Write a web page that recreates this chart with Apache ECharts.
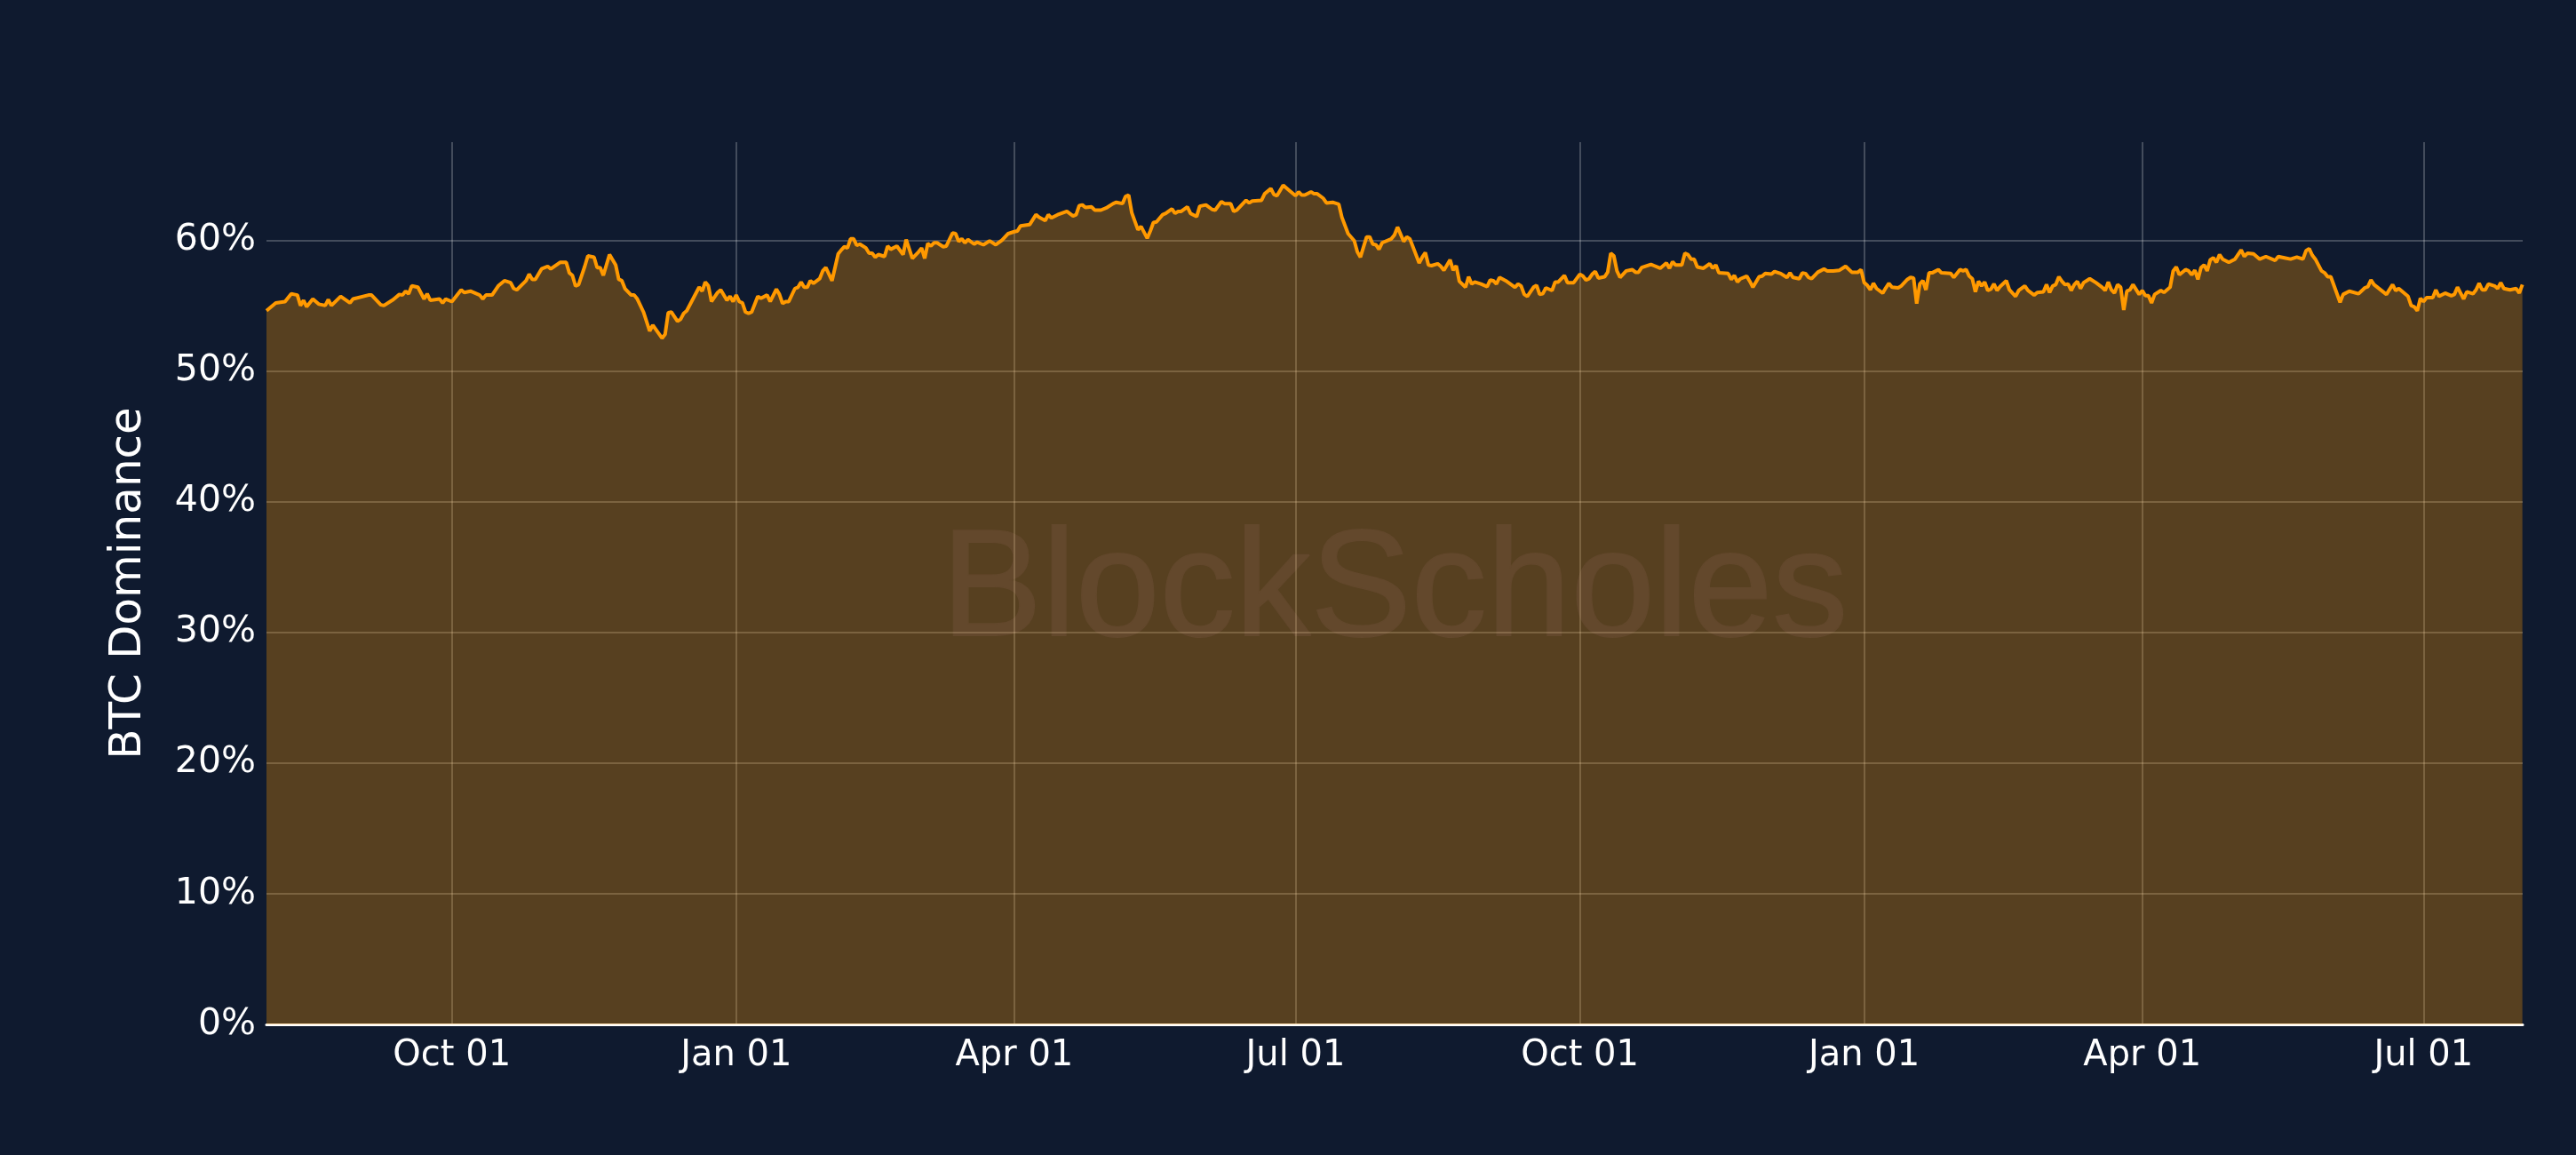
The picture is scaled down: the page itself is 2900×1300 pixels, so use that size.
<!DOCTYPE html>
<html>
<head>
<meta charset="utf-8">
<title>BTC Dominance</title>
<script src="https://cdn.jsdelivr.net/npm/echarts@6.0.0/dist/echarts.min.js"></script>
<style>
  html, body { margin: 0; padding: 0; background: #0f1a2f; }
  #chart { width: 2900px; height: 1300px; }
</style>
</head>
<body>
<div id="chart"></div>
<script>
// first day shown; every point below is "days after startDate"
const startDate = '2024-08-02';
const spanDays = 730.1;

const dayOffsets = [
  0, 3, 6, 8, 10, 11, 12, 13, 15, 17, 19, 20, 21, 24, 27, 28, 33, 34, 37, 38,
  41, 43, 44, 45, 46, 47, 49, 51, 52, 53, 56, 57, 58, 60, 63, 64, 66, 69, 70, 71,
  73, 75, 77, 79, 80, 81, 84, 85, 86, 87, 89, 91, 92, 95, 97, 98, 99, 100, 101, 103,
  104, 106, 107, 108, 109, 111, 113, 114, 115, 116, 118, 119, 120,
  121, 122, 124, 125, 128, 129, 130, 131, 133, 134, 135, 136, 140, 141, 142, 143, 144, 146, 147, 149,
  150, 151, 152, 153, 154, 155, 156, 157, 159, 160, 162, 163, 165, 166, 167, 168, 169, 171, 172, 173,
  174, 175, 176, 177, 179, 180, 181, 183, 185, 186, 187, 188, 189, 190, 191, 192, 194, 195, 196, 197,
  198, 200, 201, 202, 204, 206, 207, 209, 211, 212, 213, 214, 215, 216, 217, 219, 220, 222, 223, 224,
  225, 226, 227, 229, 230, 232, 234, 236, 238, 240, 242, 243, 244,
  247, 249, 250, 252, 253, 254, 256, 259, 261, 262, 263, 264, 265, 267, 268, 270, 272, 274, 275, 277,
  278, 279, 280, 282, 283, 285, 286, 287, 288, 290, 291, 293, 294, 295, 296, 298, 299, 301, 302, 304,
  306, 307, 309, 310, 312, 313, 314, 317, 318, 319, 322, 323, 325, 326, 327, 329, 331, 333, 334, 335,
  336, 338, 339, 340, 342, 343, 345, 347, 348, 350, 352, 353, 354, 356, 357, 358, 359, 360, 361, 364,
  365, 366,
  368, 369, 370, 373, 374, 375, 376, 377, 379, 380, 381, 383, 384, 385, 386, 388, 389, 390, 391, 393,
  395, 396, 397, 398, 399, 401, 404, 405, 406, 407, 408, 410, 411, 412, 413, 414, 416, 417, 418, 420,
  421, 423, 425, 426, 427, 428, 429, 430, 431, 433, 434, 435, 436, 437, 438, 440, 442, 443, 444, 445,
  448, 449, 451, 453, 454, 455, 456, 458, 459, 460, 461, 462, 463, 465, 467, 468, 469, 470, 473, 474,
  475, 476, 477, 479, 480, 481, 483, 484, 485, 487, 488,
  490, 492, 493, 494, 496, 497, 498, 499, 500, 502, 504, 505, 507, 509, 511, 513, 515, 516, 517, 518,
  519, 520, 521, 523, 524, 525, 526, 528, 529, 531, 532, 533, 534, 535, 536, 537, 538, 539, 541, 542,
  545, 546, 548, 549, 550, 551, 552, 553, 554, 555, 556, 557, 558, 559, 560, 561, 563, 564, 566, 567,
  569, 570, 572, 573, 575, 576, 577, 578, 579, 580, 581, 582, 583, 584, 585, 586, 587, 588, 590, 592,
  594, 595, 596, 597, 598, 599, 600, 601, 602, 603, 604, 606, 607, 608, 609, 610,
  611, 613, 614, 616, 617, 618, 619, 621, 622, 623, 624, 625, 626, 627, 628, 629, 630, 631, 632, 633,
  635, 637, 639, 640, 641, 643, 645, 647, 650, 651, 653, 655, 657, 659, 660, 661, 662, 663, 665, 666,
  667, 668, 671, 672, 674, 677, 679, 680, 681, 682, 686, 688, 689, 690, 693, 694, 695, 696, 697, 698,
  699, 701, 702, 703, 705, 707, 708, 709, 710, 711, 712, 714, 715, 716, 717, 718, 719, 721, 722, 723,
  724, 726, 728, 729, 730
];

const dominancePct = [
  54.6, 55.2, 55.3, 55.9, 55.8, 55.0, 55.4, 54.9, 55.5, 55.1, 55.0, 55.45, 55.0, 55.7, 55.2, 55.5, 55.8, 55.8, 55.05, 55.0,
  55.45, 55.85, 55.8, 56.1, 55.9, 56.5, 56.4, 55.5, 55.9, 55.4, 55.5, 55.2, 55.5, 55.3, 56.2, 56.0, 56.1, 55.8, 55.5, 55.8,
  55.8, 56.5, 56.9, 56.75, 56.3, 56.2, 56.9, 57.4, 57.0, 57.0, 57.8, 58.0, 57.8, 58.3, 58.3, 57.5, 57.3, 56.5, 56.6, 58.0,
  58.8, 58.7, 57.9, 57.9, 57.3, 58.9, 58.1, 57.0, 56.9, 56.3, 55.8, 55.8, 55.5,
  55.0, 54.5, 53.05, 53.5, 52.5, 52.8, 54.45, 54.5, 53.8, 53.95, 54.4, 54.6, 56.4, 56.1, 56.8, 56.5, 55.3, 56.0, 56.2, 55.4,
  55.7, 55.3, 55.8, 55.3, 55.2, 54.5, 54.4, 54.5, 55.7, 55.55, 55.8, 55.3, 56.25, 55.85, 55.15, 55.3, 55.3, 56.3, 56.4, 56.8,
  56.4, 56.4, 56.9, 56.7, 57.05, 57.65, 57.9, 56.9, 58.95, 59.25, 59.5, 59.4, 60.1, 60.1, 59.6, 59.7, 59.4, 59.0, 59.0, 58.7,
  58.9, 58.75, 59.55, 59.3, 59.55, 58.9, 60.05, 58.6, 59.1, 59.4, 58.6, 59.75, 59.55, 59.8, 59.8, 59.5, 59.55, 60.55, 60.5, 59.9,
  60.1, 59.8, 60.05, 59.7, 59.85, 59.65, 59.95, 59.65, 60.0, 60.5, 60.65, 60.7, 61.1,
  61.2, 61.95, 61.75, 61.5, 61.95, 61.7, 61.95, 62.2, 61.85, 61.95, 62.65, 62.7, 62.5, 62.55, 62.3, 62.3, 62.5, 62.8, 62.9, 62.8,
  63.35, 63.45, 62.1, 60.8, 61.05, 60.15, 60.7, 61.35, 61.4, 61.95, 62.05, 62.4, 62.05, 62.2, 62.2, 62.55, 62.05, 61.8, 62.6, 62.7,
  62.35, 62.3, 62.95, 62.8, 62.8, 62.2, 62.3, 63.05, 62.85, 63.0, 63.05, 63.55, 63.95, 63.5, 63.4, 64.2, 63.8, 63.4, 63.7, 63.45,
  63.45, 63.7, 63.55, 63.55, 63.2, 62.85, 62.9, 62.75, 61.75, 60.5, 59.95, 59.1, 58.7, 60.25, 60.25, 59.7, 59.65, 59.3, 59.8, 60.1,
  60.4, 61.0,
  59.9, 60.25, 60.1, 58.25, 58.7, 59.05, 58.1, 58.05, 58.2, 58.0, 57.7, 58.5, 57.7, 58.05, 56.85, 56.4, 57.2, 56.65, 56.8, 56.65,
  56.45, 56.95, 56.9, 56.65, 57.15, 56.9, 56.4, 56.65, 56.5, 55.85, 55.7, 56.4, 56.55, 55.85, 55.9, 56.35, 56.15, 56.8, 56.8, 57.3,
  56.75, 56.75, 57.4, 57.25, 56.95, 57.05, 57.4, 57.6, 57.1, 57.2, 57.55, 59.0, 58.8, 57.65, 57.15, 57.65, 57.75, 57.55, 57.55, 57.9,
  58.15, 58.05, 57.85, 58.25, 57.85, 58.35, 58.1, 58.1, 59.0, 58.9, 58.55, 58.55, 57.95, 57.85, 58.2, 57.85, 58.1, 57.5, 57.45, 57.0,
  57.3, 56.8, 57.05, 57.25, 56.85, 56.4, 57.2, 57.25, 57.45, 57.4, 57.6,
  57.45, 57.15, 57.5, 57.15, 57.05, 57.5, 57.45, 57.15, 57.05, 57.55, 57.8, 57.65, 57.65, 57.7, 58.0, 57.55, 57.55, 57.75, 56.75, 56.55,
  56.2, 56.7, 56.3, 55.95, 56.35, 56.7, 56.4, 56.35, 56.5, 57.0, 57.15, 57.1, 55.15, 56.65, 56.9, 56.2, 57.5, 57.5, 57.75, 57.5,
  57.45, 57.15, 57.75, 57.65, 57.75, 57.25, 57.05, 56.05, 56.85, 56.5, 56.8, 56.15, 56.25, 56.65, 56.15, 56.45, 56.9, 56.2, 55.7, 56.15,
  56.5, 56.15, 55.8, 56.0, 56.05, 56.6, 56.0, 56.5, 56.6, 57.2, 56.85, 56.6, 56.65, 56.15, 56.6, 56.85, 56.3, 56.75, 57.05, 56.75,
  56.4, 56.15, 56.8, 56.2, 55.95, 56.6, 56.4, 54.65, 56.1, 56.2, 56.6, 55.85, 56.15, 55.75, 55.75, 55.2,
  55.85, 56.15, 56.0, 56.4, 57.65, 57.95, 57.35, 57.75, 57.65, 57.35, 57.7, 57.0, 57.9, 58.1, 57.65, 58.5, 58.65, 58.3, 58.9, 58.55,
  58.3, 58.55, 59.25, 58.75, 59.0, 58.95, 58.55, 58.75, 58.45, 58.75, 58.65, 58.55, 58.7, 58.55, 59.2, 59.35, 58.85, 58.55, 57.65, 57.5,
  57.2, 57.2, 55.25, 55.85, 56.1, 55.9, 56.35, 56.45, 56.95, 56.6, 55.85, 56.6, 56.15, 56.3, 55.7, 55.0, 54.9, 54.6, 55.55, 55.3,
  55.6, 55.6, 56.2, 55.7, 55.95, 55.75, 55.85, 56.4, 55.95, 55.5, 56.05, 55.9, 56.2, 56.7, 56.2, 56.2, 56.65, 56.5, 56.3, 56.75,
  56.3, 56.2, 56.3, 55.95, 56.6
];

const tickDates = ['2024-10-01', '2025-01-01', '2025-04-01', '2025-07-01',
                   '2025-10-01', '2026-01-01', '2026-04-01', '2026-07-01'];
const tickLabels = ['Oct 01', 'Jan 01', 'Apr 01', 'Jul 01',
                    'Oct 01', 'Jan 01', 'Apr 01', 'Jul 01'];
const yTicks = [0, 10, 20, 30, 40, 50, 60];

// x axis works in "days after startDate"
const DAY = 86400000;
const t0 = Date.parse(startDate);
const tickDays = tickDates.map(d => Math.round((Date.parse(d) - t0) / DAY));
const seriesData = dayOffsets.map((d, i) => [d, dominancePct[i]]);

const chart = echarts.init(document.getElementById('chart'));
const gridColor = 'rgba(255,255,255,0.22)';
const font = 'DejaVu Sans';

chart.setOption({
  backgroundColor: '#0f1a2f',
  animation: false,
  grid: { left: 300, right: 60, top: 160, bottom: 147 },
  // watermark sits under the area fill and the grid lines
  graphic: [{
    type: 'text',
    x: 1570,
    y: 668,
    silent: true,
    z: -1,
    style: {
      text: 'BlockScholes',
      font: '170px "Liberation Sans"',
      align: 'center',
      verticalAlign: 'middle',
      fill: '#20263f',
      stroke: '#20263f',
      lineWidth: 2
    }
  }],
  xAxis: {
    type: 'value',
    min: 0,
    max: spanDays,
    axisLine: { show: true, onZero: false, lineStyle: { color: '#ffffff', width: 3 } },
    axisTick: { show: false, customValues: tickDays },
    axisLabel: {
      customValues: tickDays,
      color: '#ffffff',
      fontFamily: font,
      fontSize: 40,
      margin: 16,
      formatter: v => tickLabels[tickDays.indexOf(v)] || ''
    },
    splitLine: { show: true, lineStyle: { color: gridColor, width: 2 } }
  },
  yAxis: {
    type: 'value',
    min: 0,
    max: 67.5,
    name: 'BTC Dominance',
    nameLocation: 'middle',
    nameGap: 130,
    nameTextStyle: { color: '#ffffff', fontFamily: font, fontSize: 50 },
    axisLine: { show: false },
    axisTick: { show: false, customValues: yTicks },
    axisLabel: {
      customValues: yTicks,
      color: '#ffffff',
      fontFamily: font,
      fontSize: 41,
      margin: 12,
      formatter: v => v + '%'
    },
    splitLine: { show: true, lineStyle: { color: gridColor, width: 2 } }
  },
  series: [{
    name: 'BTC Dominance',
    type: 'line',
    data: seriesData,
    showSymbol: false,
    sampling: null,
    lineStyle: { color: '#ff9900', width: 4 },
    areaStyle: { color: '#ff9900', opacity: 0.3 },
    z: 3
  }]
});
</script>
</body>
</html>
